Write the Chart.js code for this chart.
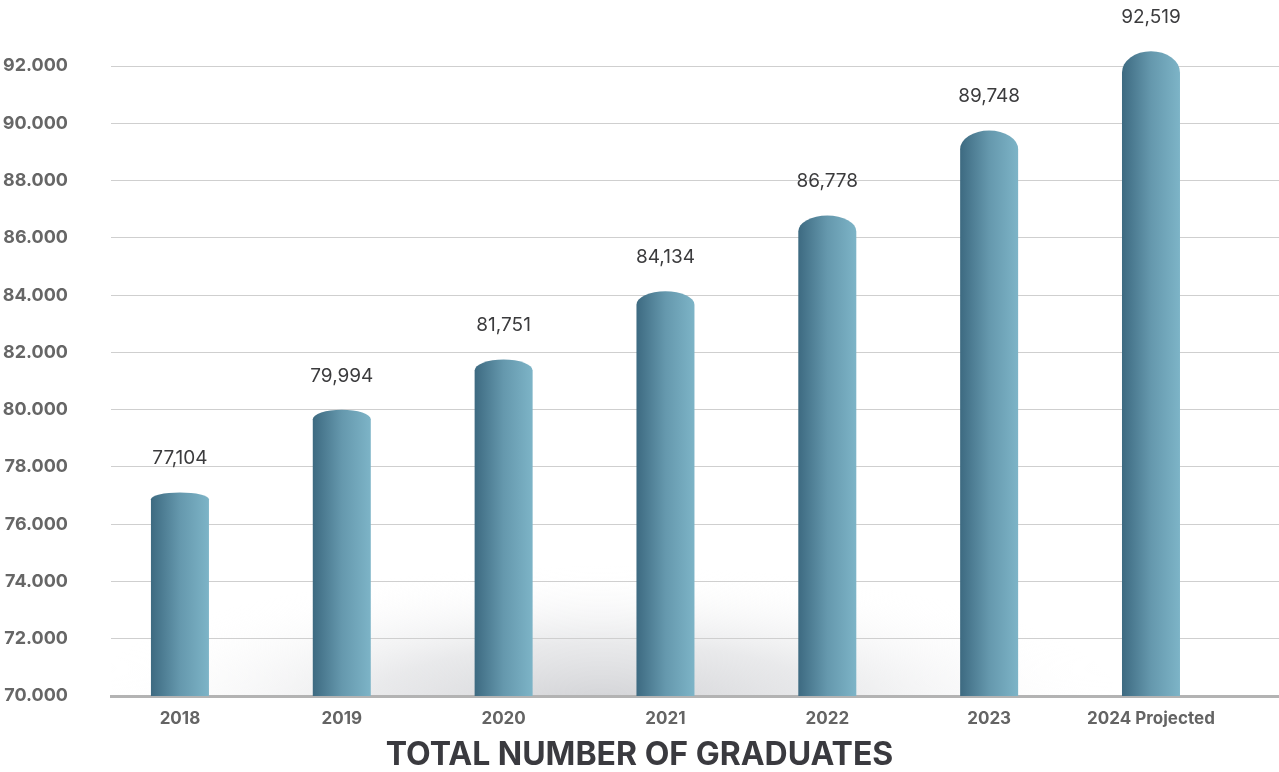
<!DOCTYPE html>
<html lang="en">
<head>
  <meta charset="UTF-8" />
  <title>Total Number of Graduates</title>
  <script src="https://cdn.jsdelivr.net/npm/chart.js"></script>
  <style>
    html, body { margin: 0; padding: 0; background: #fff; }
    #wrap { width: 1279px; height: 772px; position: relative; }
  </style>
</head>
<body>
  <div id="wrap"><canvas id="gradChart"></canvas></div>

  <script>
    // chart data
    const years = ["2018", "2019", "2020", "2021", "2022", "2023", "2024 Projected"];
    const graduates = [77104, 79994, 81751, 84134, 86778, 89748, 92519];
    const yTicks = [70000, 72000, 74000, 76000, 78000, 80000, 82000, 84000, 86000, 88000, 90000, 92000];

    const FONT = "Inter, 'Noto Sans', sans-serif";

    const dotThousands = v => String(v).replace(/\B(?=(\d{3})+(?!\d))/g, ".");
    const commaThousands = v => String(v).replace(/\B(?=(\d{3})+(?!\d))/g, ",");

    // soft grey floor shadow behind the bars
    const floorShadow = {
      id: "floorShadow",
      beforeDraw(chart) {
        const { ctx, chartArea: a } = chart;
        const cx = a.left + (a.right - a.left) * 0.42;
        const rx = 520, ry = 140;
        ctx.save();
        ctx.beginPath();
        ctx.rect(a.left, a.top, a.right - a.left, a.bottom - a.top);
        ctx.clip();
        ctx.translate(cx, a.bottom + 10);
        ctx.scale(rx / ry, 1);
        const g = ctx.createRadialGradient(0, 0, 0, 0, 0, ry);
        g.addColorStop(0, "rgba(200,201,205,0.85)");
        g.addColorStop(0.45, "rgba(215,216,219,0.55)");
        g.addColorStop(1, "rgba(255,255,255,0)");
        ctx.fillStyle = g;
        ctx.fillRect(-ry * 2, -ry * 2, ry * 4, ry * 4);
        ctx.restore();
      }
    };

    // cylinder bars with a domed top, plus value labels
    const cylinders = {
      id: "cylinders",
      afterDatasetsDraw(chart) {
        const { ctx, chartArea: a } = chart;
        const meta = chart.getDatasetMeta(0);
        meta.data.forEach((el, i) => {
          const half = el.width / 2;
          const base = Math.min(el.base, a.bottom);
          const dome = (base - el.y) * 0.033;
          const g = ctx.createLinearGradient(el.x - half, 0, el.x + half, 0);
          g.addColorStop(0, "#3d6a81");
          g.addColorStop(0.5, "#6598ad");
          g.addColorStop(1, "#7db4c7");
          ctx.save();
          ctx.beginPath();
          ctx.moveTo(el.x - half, base);
          ctx.lineTo(el.x - half, el.y + dome);
          ctx.ellipse(el.x, el.y + dome, half, dome, 0, Math.PI, 2 * Math.PI);
          ctx.lineTo(el.x + half, base);
          ctx.closePath();
          ctx.fillStyle = g;
          ctx.fill();

          ctx.font = "400 19px " + FONT;
          ctx.fillStyle = "#3b3b3d";
          ctx.textAlign = "center";
          ctx.textBaseline = "middle";
          ctx.fillText(commaThousands(graduates[i]), el.x, el.y - 34);
          ctx.restore();
        });
      }
    };

    const ctx = document.getElementById("gradChart").getContext("2d");
    new Chart(ctx, {
      type: "bar",
      data: {
        datasets: [{
          data: graduates.map((v, i) => ({ x: i, y: v })),
          backgroundColor: "rgba(0,0,0,0)",
          barThickness: 58
        }]
      },
      options: {
        responsive: true,
        maintainAspectRatio: false,
        animation: false,
        layout: { padding: { top: 0, right: 0, left: 0, bottom: 0 } },
        plugins: {
          legend: { display: false },
          tooltip: { enabled: false },
          title: {
            display: true,
            position: "bottom",
            text: "TOTAL NUMBER OF GRADUATES",
            color: "#3a3a3f",
            font: { family: FONT, size: 32, weight: "700", lineHeight: 1.0 },
            padding: { top: 0, bottom: 1 }
          }
        },
        scales: {
          x: {
            type: "linear",
            offset: false,
            min: -0.426,
            max: 6.791,
            grid: { display: false, drawTicks: false, offset: false },
            border: { display: true, color: "#b3b3b3", width: 3 },
            afterBuildTicks: s => { s.ticks = years.map((_, i) => ({ value: i })); },
            afterFit: s => { s.height = 43; },
            ticks: {
              autoSkip: false,
              maxRotation: 0,
              padding: 13,
              color: "#646464",
              font: { family: FONT, size: 17, weight: "700" },
              callback: (v, idx) => years[idx]
            }
          },
          y: {
            min: 70000,
            max: 92427,
            afterBuildTicks: s => { s.ticks = yTicks.map(v => ({ value: v })); },
            afterFit: s => { s.width = 111; },
            grid: { color: "#cfcfcf", lineWidth: 1, drawTicks: false },
            border: { display: false },
            ticks: {
              padding: 43,
              color: "#666666",
              font: { family: FONT, size: 18, weight: "700" },
              callback: v => dotThousands(v)
            }
          }
        }
      },
      plugins: [floorShadow, cylinders]
    });
  </script>
</body>
</html>
